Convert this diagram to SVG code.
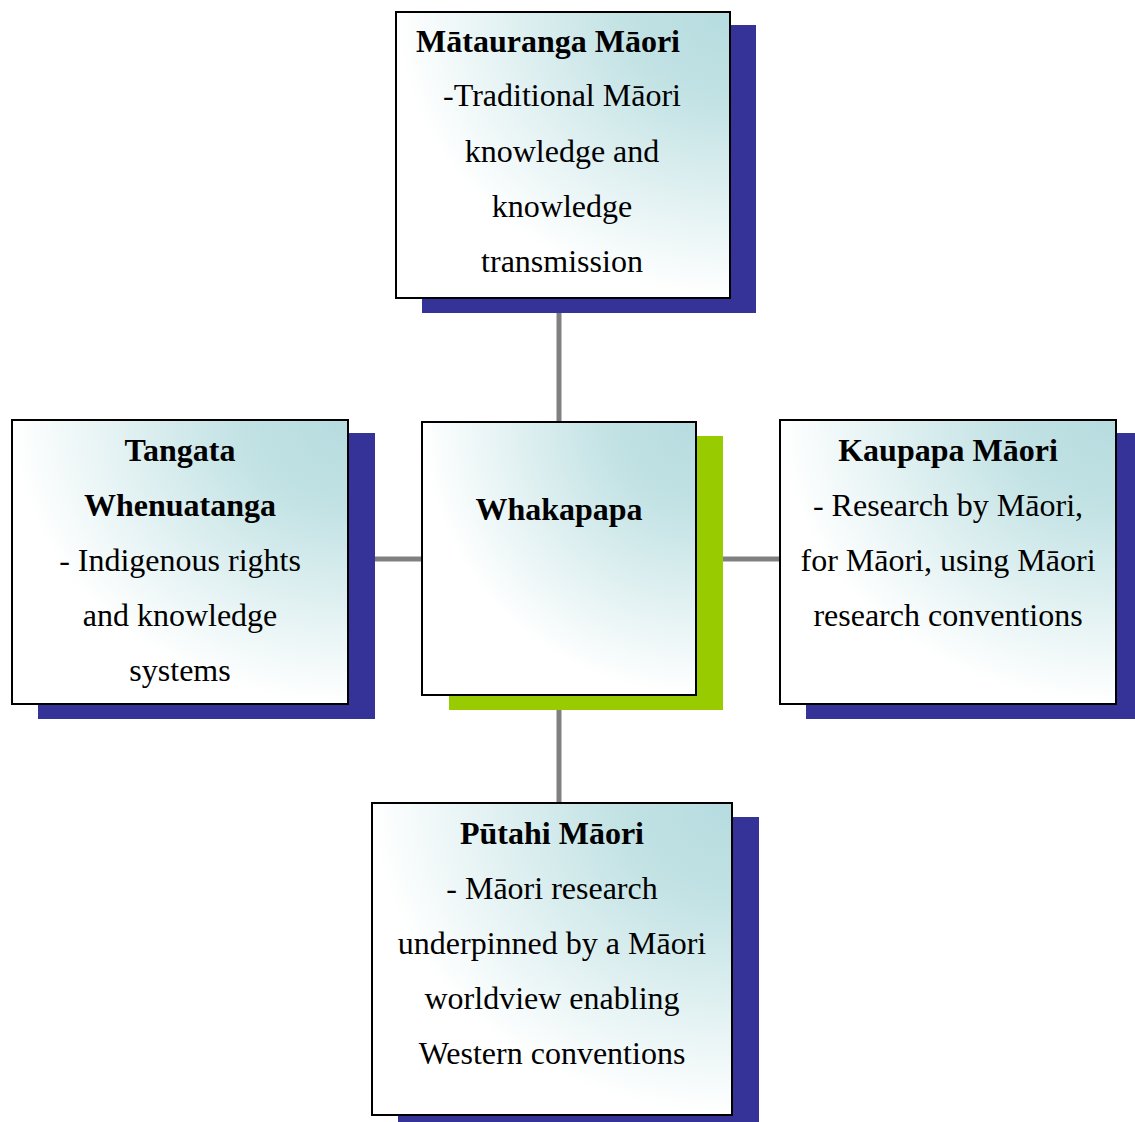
<svg xmlns="http://www.w3.org/2000/svg" width="1135" height="1122" viewBox="0 0 1135 1122">
<defs>
<radialGradient id="g" cx="1" cy="0" r="1.05" fx="1" fy="0">
<stop offset="0" stop-color="#b6dcdf"/>
<stop offset="0.3" stop-color="#c2e2e4"/>
<stop offset="0.95" stop-color="#ffffff"/>
</radialGradient>
<style>
.box{fill:url(#g);stroke:#000;stroke-width:2}
.sh{fill:#353397}
.shg{fill:#99cc00}
.t{font-family:"Liberation Serif","Times New Roman",serif;font-size:32px;fill:#000;text-anchor:middle}
.b{font-weight:bold}
.c{stroke:#808080;stroke-width:5;fill:none}
</style>
</defs>
<rect width="1135" height="1122" fill="#fff"/>
<g id="connectors">
<line class="c" x1="559" y1="298" x2="559" y2="422"/>
<line class="c" x1="559" y1="695" x2="559" y2="803"/>
<line class="c" x1="348" y1="559" x2="422" y2="559"/>
<line class="c" x1="696" y1="559" x2="780" y2="559"/>
</g>
<g id="matauranga">
<rect class="sh" x="422" y="25" width="334" height="288"/>
<rect class="box" x="396" y="12" width="334" height="286"/>
<text class="t b" x="548" y="52">Mātauranga Māori</text>
<text class="t" x="562" y="106">-Traditional Māori</text>
<text class="t" x="562" y="162">knowledge and</text>
<text class="t" x="562" y="217">knowledge</text>
<text class="t" x="562" y="272">transmission</text>
</g>
<g id="whakapapa">
<rect class="shg" x="449" y="436" width="274" height="274"/>
<rect class="box" x="422" y="422" width="274" height="273"/>
<text class="t b" x="559" y="520">Whakapapa</text>
</g>
<g id="tangata">
<rect class="sh" x="38" y="433" width="337" height="286"/>
<rect class="box" x="12" y="420" width="336" height="284"/>
<text class="t b" x="180" y="461">Tangata</text>
<text class="t b" x="180" y="516">Whenuatanga</text>
<text class="t" x="180" y="571">- Indigenous rights</text>
<text class="t" x="180" y="626">and knowledge</text>
<text class="t" x="180" y="681">systems</text>
</g>
<g id="kaupapa">
<rect class="sh" x="806" y="433" width="329" height="286"/>
<rect class="box" x="780" y="420" width="336" height="284"/>
<text class="t b" x="948" y="461">Kaupapa Māori</text>
<text class="t" x="948" y="516">- Research by Māori,</text>
<text class="t" x="948" y="571">for Māori, using Māori</text>
<text class="t" x="948" y="626">research conventions</text>
</g>
<g id="putahi">
<rect class="sh" x="398" y="817" width="361" height="305"/>
<rect class="box" x="372" y="803" width="360" height="312"/>
<text class="t b" x="552" y="844">Pūtahi Māori</text>
<text class="t" x="552" y="899">- Māori research</text>
<text class="t" x="552" y="954">underpinned by a Māori</text>
<text class="t" x="552" y="1009">worldview enabling</text>
<text class="t" x="552" y="1064">Western conventions</text>
</g>
</svg>
